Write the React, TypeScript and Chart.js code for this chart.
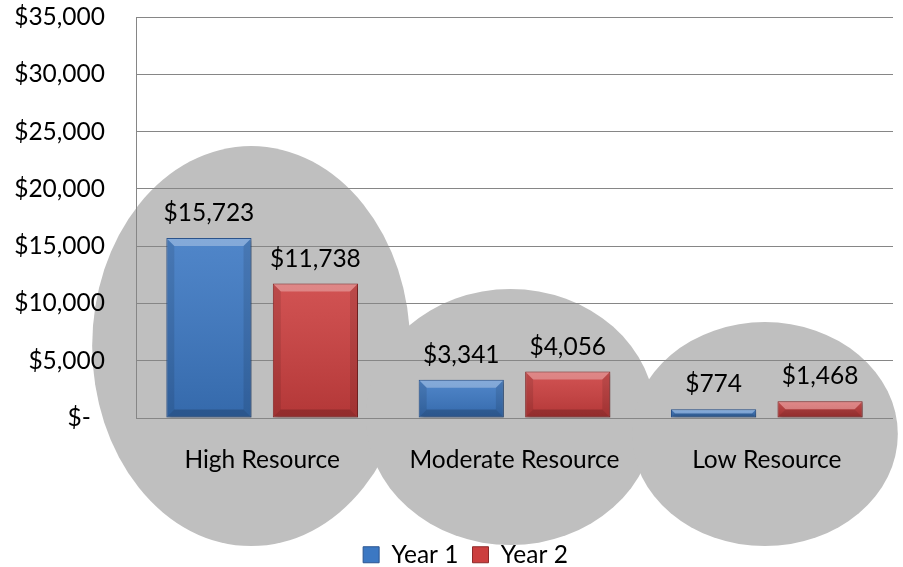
import React, { useEffect, useRef } from "react";
import { Chart, registerables } from "chart.js";

Chart.register(...registerables);

// ---- data ----
const categories = ["High Resource", "Moderate Resource", "Low Resource"];
const seriesNames = ["Year 1", "Year 2"];
const year1 = [15723, 3341, 774];
const year2 = [11738, 4056, 1468];
const yMin = 0;
const yMax = 35000;
const yStep = 5000;

// ---- style ----
const FONT = "Lato, 'Open Sans', sans-serif";
const FONT_SIZE = 24.5;
const GRID = "#868686";
const ELLIPSE_FILL = "#bfbfbf";
// decorative backdrop ellipses, one per category (offsets relative to category centre / chart bottom)
const ellipseStyle = [
  { dx: -11, dy: -72, rx: 159, ry: 200 },
  { dx: -4, dy: -1, rx: 145, ry: 128 },
  { dx: -2, dy: 16, rx: 133, ry: 112 },
];
const seriesStyle = [
  { fill: "#3c78c3", border: "#2b5590" },
  { fill: "#cc3f3f", border: "#8e2a2a" },
];

const fmt = (v: number) =>
  v === 0 ? "$-" : "$" + v.toLocaleString("en-US");
const tickFmt = (v: number) => (v === 0 ? "$-\u2007" : fmt(v));

const ellipsePlugin = {
  id: "ellipses",
  afterLayout(chart: any) {
    const lg = chart.legend;
    if (lg) {
      lg.left += 19;
      lg.right += 19;
      lg.top += 10;
      lg.bottom += 10;
    }
  },
  beforeDraw(chart: any) {
    const { ctx, chartArea } = chart;
    const xs = chart.scales.x;
    ctx.save();
    ctx.fillStyle = ELLIPSE_FILL;
    ellipseStyle.forEach((e, i) => {
      const cx = xs.getPixelForValue(i) + e.dx;
      const cy = chartArea.bottom + e.dy;
      ctx.beginPath();
      ctx.ellipse(cx, cy, e.rx, e.ry, 0, 0, Math.PI * 2);
      ctx.fill();
    });
    ctx.restore();
  },
  beforeDatasetsDraw(chart: any) {
    const { ctx } = chart;
    ctx.save();
    ctx.shadowColor = "rgba(0,0,0,0.30)";
    ctx.shadowBlur = 4;
    ctx.shadowOffsetX = 2;
    ctx.shadowOffsetY = 2;
  },
  afterDatasetsDraw(chart: any) {
    chart.ctx.restore();
  },
};

const bevelPlugin = {
  id: "bevel",
  afterDatasetsDraw(chart: any) {
    const { ctx } = chart;
    ctx.save();
    chart.data.datasets.forEach((ds: any, di: number) => {
      const meta = chart.getDatasetMeta(di);
      meta.data.forEach((bar: any, i: number) => {
        const { x, y, base, width } = bar.getProps(["x", "y", "base", "width"], true);
        const l = x - width / 2 + 1;
        const r = x + width / 2 - 1;
        const t = Math.min(y, base) + 1;
        const b = Math.max(y, base) - 1;
        const h = b - t;
        const bv = Math.max(1, Math.min(7, h / 2));
        const g = ctx.createLinearGradient(0, t, 0, b);
        g.addColorStop(0, "rgba(255,255,255,0.10)");
        g.addColorStop(1, "rgba(0,0,0,0.12)");
        ctx.fillStyle = g;
        ctx.fillRect(l, t, r - l, h);
        ctx.fillStyle = "rgba(255,255,255,0.30)";
        ctx.beginPath();
        ctx.moveTo(l, t);
        ctx.lineTo(r, t);
        ctx.lineTo(r - bv, t + bv);
        ctx.lineTo(l + bv, t + bv);
        ctx.closePath();
        ctx.fill();
        ctx.fillStyle = "rgba(0,0,0,0.10)";
        ctx.beginPath();
        ctx.moveTo(l, t);
        ctx.lineTo(l + bv, t + bv);
        ctx.lineTo(l + bv, b - bv);
        ctx.lineTo(l, b);
        ctx.closePath();
        ctx.fill();
        ctx.beginPath();
        ctx.moveTo(r, t);
        ctx.lineTo(r - bv, t + bv);
        ctx.lineTo(r - bv, b - bv);
        ctx.lineTo(r, b);
        ctx.closePath();
        ctx.fill();
        ctx.fillStyle = "rgba(0,0,0,0.18)";
        ctx.beginPath();
        ctx.moveTo(l, b);
        ctx.lineTo(r, b);
        ctx.lineTo(r - bv, b - bv);
        ctx.lineTo(l + bv, b - bv);
        ctx.closePath();
        ctx.fill();
        ctx.fillStyle = "#000";
        ctx.font = `${FONT_SIZE}px ${FONT}`;
        ctx.textAlign = "center";
        ctx.textBaseline = "alphabetic";
        ctx.fillText(fmt(ds.data[i]), x, Math.min(y, base) - 17);
      });
    });
    ctx.restore();
  },
};

export default function App() {
  const ref = useRef<HTMLCanvasElement>(null);

  useEffect(() => {
    if (!ref.current) return;
    const chart = new Chart(ref.current, {
      type: "bar",
      data: {
        labels: categories,
        datasets: [year1, year2].map((d, i) => ({
          label: seriesNames[i],
          data: d,
          backgroundColor: seriesStyle[i].fill,
          borderColor: seriesStyle[i].border,
          borderWidth: 1,
          borderSkipped: false,
          categoryPercentage: 0.844,
          barPercentage: 0.8,
        })),
      },
      options: {
        animation: false,
        responsive: true,
        maintainAspectRatio: false,
        layout: { padding: { top: 17, right: 10, left: 0, bottom: 0 } },
        plugins: {
          legend: {
            position: "bottom",
            labels: {
              boxWidth: 16,
              boxHeight: 16,
              padding: 14,
              color: "#000",
              font: { family: FONT, size: FONT_SIZE },
            },
          },
          tooltip: { enabled: false },
        },
        scales: {
          x: {
            grid: { display: false, drawTicks: false },
            border: { display: false },
            ticks: {
              color: "#000",
              padding: 27,
              font: { family: FONT, size: FONT_SIZE },
            },
            afterFit: (s: any) => {
              s.height += 17;
            },
          },
          y: {
            min: yMin,
            max: yMax,
            grid: { color: GRID, lineWidth: 1, drawTicks: false },
            border: { display: true, color: GRID, width: 1 },
            ticks: {
              stepSize: yStep,
              padding: 31,
              color: "#000",
              font: { family: FONT, size: FONT_SIZE },
              callback: (v: any) => tickFmt(Number(v)),
            },
            afterFit: (s: any) => {
              s.width = 136;
              s.paddingTop = 0;
              s.paddingBottom = 0;
            },
          },
        },
      },
      plugins: [ellipsePlugin, bevelPlugin],
    });
    return () => chart.destroy();
  }, []);

  return (
    <div style={{ position: "absolute", left: 0, top: 0, width: 903, height: 567, background: "#fff" }}>
      <canvas ref={ref} />
    </div>
  );
}
